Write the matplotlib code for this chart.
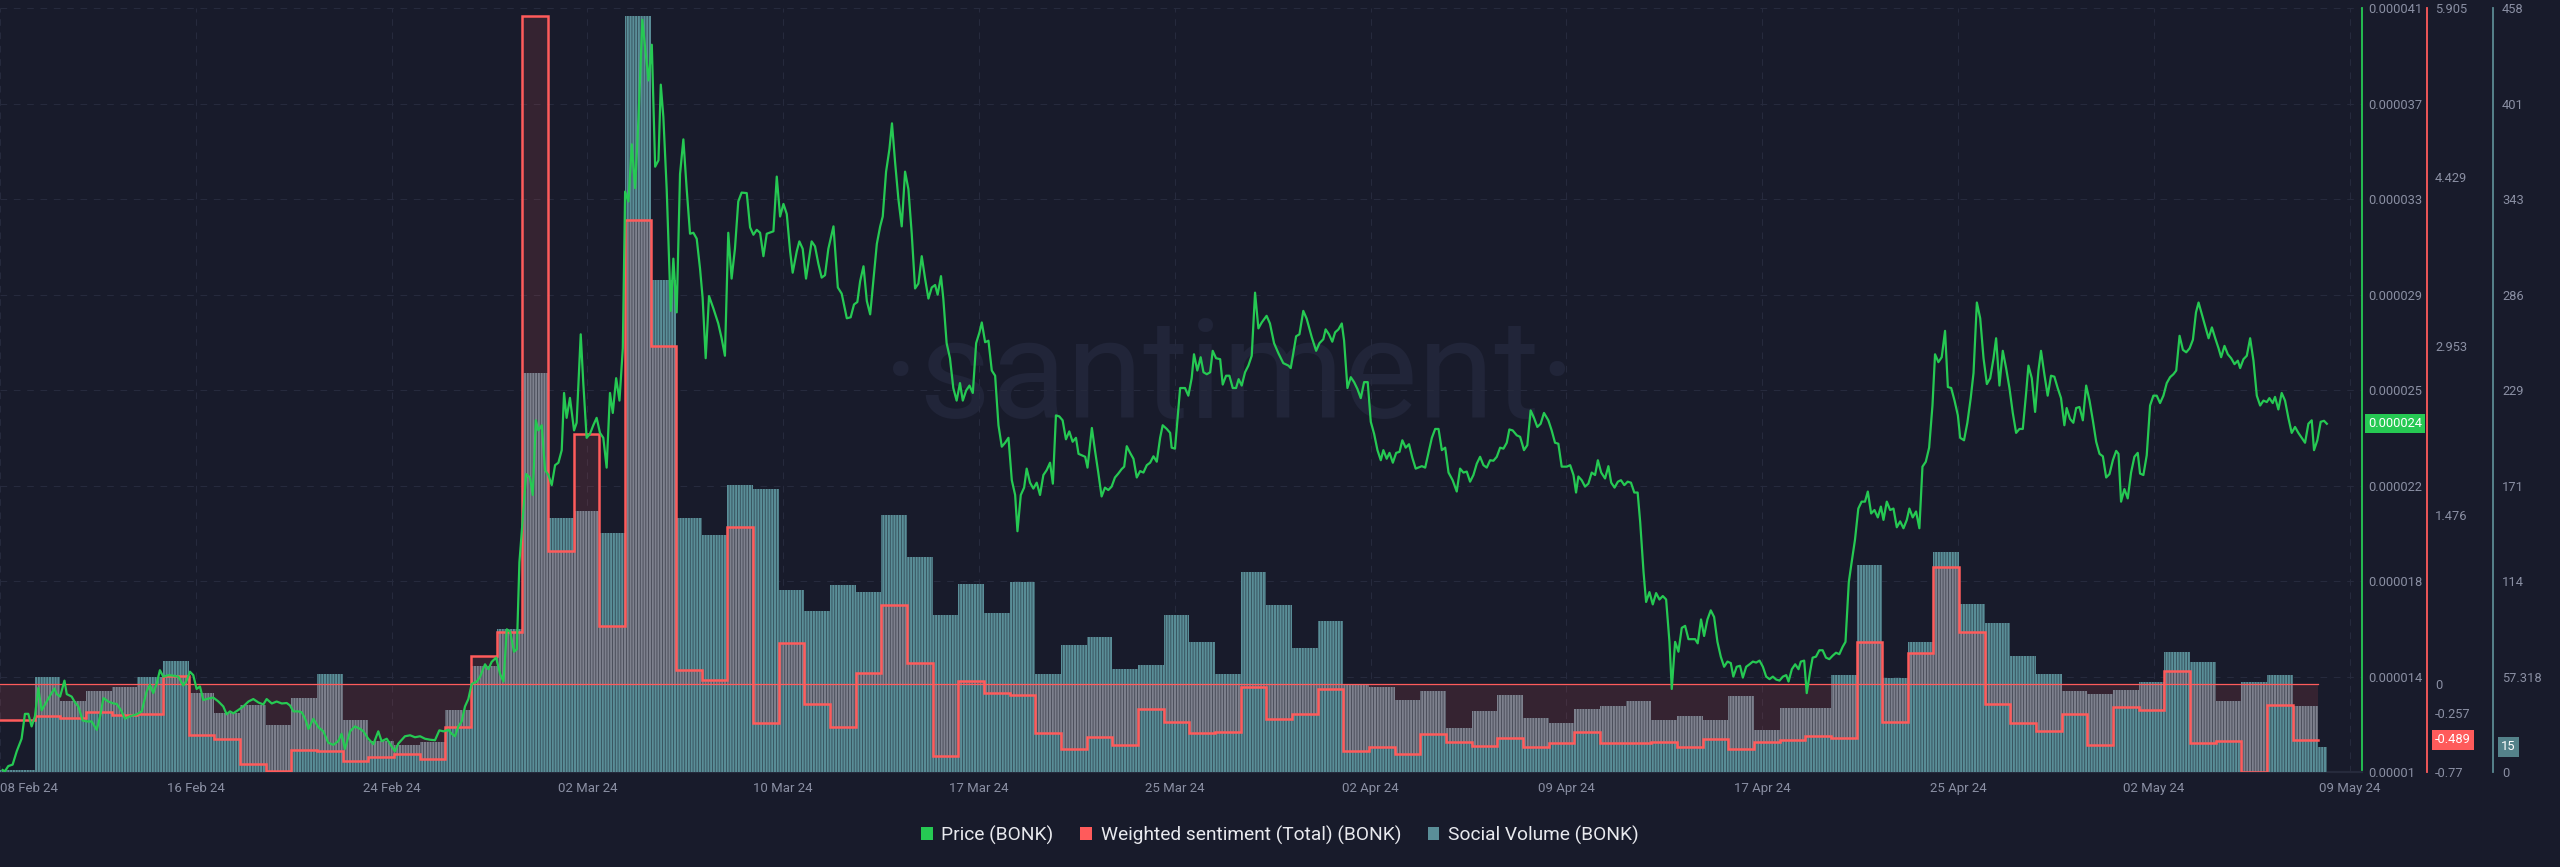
import numpy as np
import matplotlib
matplotlib.use("Agg")
import matplotlib.pyplot as plt
from matplotlib.patches import Patch
from matplotlib.path import Path
from matplotlib.transforms import blended_transform_factory as blend

# ---------------- data ----------------
DATE_LABELS = ['08 Feb 24', '16 Feb 24', '24 Feb 24', '02 Mar 24', '10 Mar 24', '17 Mar 24',
               '25 Mar 24', '02 Apr 24', '09 Apr 24', '17 Apr 24', '25 Apr 24', '02 May 24',
               '09 May 24']
PRICE_TICK_LABELS = ['0.00001', '0.000014', '0.000018', '0.000022', '0.000025', '0.000029',
                     '0.000033', '0.000037', '0.000041']
SENT_TICKS = [-0.77, -0.257, 0, 1.476, 2.953, 4.429, 5.905]
SENT_TICK_LABELS = ['-0.77', '-0.257', '0', '1.476', '2.953', '4.429', '5.905']
VOL_TICK_LABELS = ['0', '57.318', '114', '171', '229', '286', '343', '401', '458']

# daily weighted sentiment, first (partial) day then one value per day
SENTIMENT = [-0.314, -0.279, -0.300, -0.248, -0.274, -0.261, 0.065, -0.444, -0.483, -0.696,
             -0.761, -0.575, -0.587, -0.674, -0.639, -0.613, -0.657, -0.379, 0.247, 0.451,
             5.835, 1.160, 2.185, 0.508, 4.049, 2.954, 0.125, 0.030, 1.368, -0.340,
             0.356, -0.179, -0.379, 0.091, 0.686, 0.178, -0.626, 0.025, -0.079, -0.096,
             -0.431, -0.566, -0.461, -0.535, -0.218, -0.331, -0.431, -0.422, -0.023, -0.309,
             -0.261, -0.049, -0.587, -0.553, -0.613, -0.440, -0.505, -0.544, -0.474, -0.553,
             -0.514, -0.418, -0.514, -0.514, -0.505, -0.548, -0.479, -0.570, -0.505, -0.492,
             -0.452, -0.470, 0.369, -0.335, 0.273, 1.020, 0.451, -0.179, -0.340, -0.409,
             -0.266, -0.531, -0.205, -0.227, 0.112, -0.518, -0.500, -0.770, -0.188, -0.489]

# daily social volume, first (partial) day ... last (partial) day
SOCIAL_VOLUME = [1, 56.9, 42.3, 48.3, 50.9, 56.9, 66.7, 47.1, 35.1, 39.9,
                 28.2, 44.1, 59.0, 31.2, 18.4, 16.0, 17.8, 36.9, 63.7, 85.8,
                 239.1, 152.0, 156.2, 143.1, 453.0, 294.9, 152.0, 141.9, 172.0, 169.9,
                 109.1, 96.3, 112.1, 108.2, 153.8, 128.8, 94.2, 113.0, 95.1, 114.2,
                 59.0, 76.0, 80.8, 61.9, 64.0, 94.2, 78.1, 59.0, 119.8, 100.1,
                 74.2, 90.3, 52.1, 50.9, 43.2, 48.3, 26.1, 36.3, 46.2, 32.4,
                 29.1, 37.8, 39.3, 42.3, 31.2, 33.3, 31.2, 45.3, 25.2, 38.4,
                 38.4, 58.1, 124.0, 56.3, 78.1, 132.1, 101.0, 89.1, 69.7, 59.0,
                 48.3, 46.5, 49.2, 54.2, 72.1, 65.8, 42.3, 54.2, 58.1, 39.3, 15]
LAST_DAY_FRACTION = 0.33   # the last volume bar covers only part of a day

# price (days since first full day, price in millionths of a dollar)
PRICE_SERIES = [
    (-1.25, 10.08), (-1.16, 10.03), (-1.03, 10.24), (-0.86, 10.30), (-0.70, 10.84), (-0.51, 11.35),
    (-0.38, 12.36), (-0.25, 12.36), (-0.12, 11.85), (0.01, 12.26), (0.14, 13.41), (0.27, 12.50),
    (0.47, 12.86), (0.60, 13.10), (0.77, 13.39), (0.86, 13.16), (0.99, 13.06), (1.16, 13.71),
    (1.25, 13.16), (1.44, 13.06), (1.57, 12.82), (1.70, 12.66), (1.87, 12.09), (2.05, 12.05),
    (2.22, 12.05), (2.42, 11.71), (2.55, 12.26), (2.68, 13.00), (2.87, 12.86), (3.07, 12.78),
    (3.20, 12.76), (3.39, 12.46), (3.52, 12.16), (3.71, 12.26), (3.97, 12.34), (4.17, 12.46),
    (4.36, 13.26), (4.49, 13.53), (4.62, 13.20), (4.75, 13.57), (4.88, 14.13), (5.01, 13.87),
    (5.21, 13.93), (5.40, 13.91), (5.60, 13.87), (5.79, 13.51), (5.92, 13.71), (6.05, 14.07),
    (6.18, 13.93), (6.31, 13.37), (6.44, 13.47), (6.57, 12.92), (6.77, 12.98), (6.96, 13.02),
    (7.16, 12.86), (7.35, 12.66), (7.48, 12.34), (7.61, 12.46), (7.74, 12.38), (7.94, 12.52),
    (8.13, 12.66), (8.33, 12.86), (8.52, 12.96), (8.72, 12.82), (8.91, 12.74), (9.04, 12.96),
    (9.24, 12.78), (9.43, 12.86), (9.63, 12.78), (9.82, 12.80), (9.95, 12.70), (10.08, 12.46),
    (10.28, 12.46), (10.41, 12.42), (10.54, 12.16), (10.67, 11.75), (10.86, 12.16), (11.06, 11.81),
    (11.25, 11.65), (11.44, 11.19), (11.64, 11.10), (11.83, 11.25), (11.96, 11.55), (12.09, 10.94),
    (12.29, 11.65), (12.48, 11.85), (12.68, 11.75), (12.81, 11.65), (13.00, 11.35), (13.20, 11.13),
    (13.39, 11.65), (13.52, 11.25), (13.72, 11.35), (13.91, 11.04), (14.04, 10.84), (14.17, 11.15),
    (14.43, 11.45), (14.63, 11.49), (14.82, 11.41), (15.02, 11.45), (15.21, 11.35), (15.41, 11.31),
    (15.60, 11.29), (15.77, 11.69), (15.93, 11.65), (16.12, 11.71), (16.25, 11.55), (16.38, 11.45),
    (16.51, 11.85), (16.64, 12.05), (16.77, 12.66), (16.90, 12.96), (17.03, 13.57), (17.23, 13.67),
    (17.36, 13.87), (17.55, 14.37), (17.68, 14.17), (17.81, 14.47), (17.98, 14.64), (18.14, 13.97),
    (18.27, 13.67), (18.40, 15.79), (18.53, 15.69), (18.68, 14.88), (18.79, 14.98), (18.89, 18.51),
    (18.98, 19.72), (19.15, 22.09), (19.30, 21.95), (19.41, 21.24), (19.53, 24.27), (19.63, 23.86),
    (19.76, 24.07), (19.89, 22.25), (20.02, 22.05), (20.15, 21.64), (20.28, 22.45), (20.41, 22.55),
    (20.54, 23.06), (20.63, 25.38), (20.73, 24.37), (20.86, 25.18), (21.02, 23.86), (21.12, 24.17),
    (21.28, 27.76), (21.38, 25.78), (21.51, 23.56), (21.64, 23.72), (21.77, 24.07), (21.90, 24.37),
    (22.03, 23.76), (22.16, 23.56), (22.29, 22.35), (22.42, 25.38), (22.53, 24.57), (22.66, 25.98),
    (22.79, 25.07), (22.92, 27.19), (23.01, 33.55), (23.14, 33.15), (23.27, 35.47), (23.40, 33.69),
    (23.53, 36.48), (23.68, 40.52), (23.79, 39.41), (23.92, 38.06), (24.05, 39.51), (24.18, 34.56),
    (24.31, 34.82), (24.40, 37.89), (24.50, 36.58), (24.63, 33.65), (24.79, 28.71), (24.89, 30.83),
    (25.02, 28.65), (25.15, 34.26), (25.28, 35.67), (25.41, 33.65), (25.54, 31.84), (25.67, 31.88),
    (25.80, 31.64), (25.93, 30.42), (26.03, 29.25), (26.15, 26.79), (26.28, 29.31), (26.45, 28.81),
    (26.64, 28.20), (26.77, 27.60), (26.90, 26.89), (27.03, 31.88), (27.16, 30.02), (27.29, 31.23),
    (27.42, 33.15), (27.55, 33.51), (27.75, 33.49), (27.88, 32.10), (28.01, 31.80), (28.14, 32.00),
    (28.27, 31.88), (28.40, 30.93), (28.53, 31.84), (28.79, 31.94), (28.92, 34.16), (29.05, 32.54),
    (29.18, 33.05), (29.31, 32.64), (29.44, 31.13), (29.54, 30.26), (29.70, 31.13), (29.80, 31.53),
    (29.93, 31.23), (30.06, 30.02), (30.28, 31.53), (30.41, 31.33), (30.54, 30.63), (30.67, 30.06),
    (30.80, 30.16), (30.93, 31.23), (31.13, 32.14), (31.30, 29.66), (31.45, 29.41), (31.65, 28.41),
    (31.80, 28.45), (31.93, 28.97), (32.06, 29.07), (32.17, 29.92), (32.30, 30.52), (32.43, 29.11),
    (32.56, 28.57), (32.69, 30.02), (32.82, 31.43), (32.95, 32.14), (33.05, 32.54), (33.18, 34.36),
    (33.31, 35.27), (33.41, 36.32), (33.53, 34.76), (33.66, 33.25), (33.79, 32.14), (33.92, 34.36),
    (34.05, 33.65), (34.18, 31.84), (34.31, 29.62), (34.44, 29.82), (34.57, 30.93), (34.70, 30.02),
    (34.83, 29.21), (34.96, 29.66), (35.09, 29.76), (35.19, 29.37), (35.32, 30.12), (35.41, 29.21),
    (35.54, 27.40), (35.67, 26.79), (35.80, 25.58), (35.93, 25.07), (36.06, 25.78), (36.17, 25.07),
    (36.30, 25.48), (36.43, 25.68), (36.56, 25.38), (36.69, 27.40), (36.82, 27.84), (36.91, 28.24),
    (37.04, 27.44), (37.17, 27.50), (37.30, 26.29), (37.43, 26.08), (37.56, 24.07), (37.69, 23.20),
    (37.82, 23.36), (37.95, 23.56), (38.08, 21.84), (38.21, 21.24), (38.30, 19.77), (38.43, 21.24),
    (38.56, 21.54), (38.66, 22.31), (38.79, 21.74), (38.92, 21.50), (39.05, 21.74), (39.18, 21.24),
    (39.31, 22.05), (39.44, 22.25), (39.57, 22.55), (39.68, 21.70), (39.80, 24.47), (39.93, 24.43),
    (40.06, 24.27), (40.19, 23.50), (40.32, 23.82), (40.45, 23.40), (40.58, 23.56), (40.68, 22.91),
    (40.81, 22.85), (40.94, 22.79), (41.03, 22.35), (41.20, 23.96), (41.32, 23.06), (41.45, 22.15),
    (41.58, 21.18), (41.71, 21.54), (41.84, 21.44), (41.97, 21.58), (42.10, 21.95), (42.23, 22.11),
    (42.36, 22.29), (42.46, 22.39), (42.56, 23.22), (42.69, 22.95), (42.82, 22.71), (42.95, 21.95),
    (43.08, 22.21), (43.21, 22.15), (43.34, 22.45), (43.47, 22.55), (43.60, 22.81), (43.73, 22.59),
    (43.86, 23.56), (43.96, 24.07), (44.12, 23.92), (44.25, 23.76), (44.31, 23.16), (44.44, 23.12),
    (44.64, 25.58), (44.83, 25.58), (44.96, 25.27), (45.09, 25.98), (45.18, 26.95), (45.31, 26.29),
    (45.44, 26.83), (45.55, 26.22), (45.68, 26.14), (45.81, 26.22), (45.91, 27.09), (46.04, 26.79),
    (46.20, 26.75), (46.30, 25.72), (46.43, 26.08), (46.56, 26.08), (46.69, 25.58), (46.82, 25.58),
    (46.92, 25.94), (47.04, 25.68), (47.17, 26.22), (47.30, 26.49), (47.43, 26.89), (47.56, 29.45),
    (47.69, 28.00), (47.82, 28.24), (48.01, 28.51), (48.14, 28.20), (48.30, 27.40), (48.47, 26.99),
    (48.66, 26.59), (48.86, 26.49), (48.95, 26.39), (49.05, 26.99), (49.16, 27.68), (49.29, 27.76),
    (49.44, 28.71), (49.57, 28.40), (49.77, 27.64), (49.94, 27.09), (50.07, 27.40), (50.22, 27.56),
    (50.31, 27.96), (50.44, 27.76), (50.57, 27.46), (50.68, 27.84), (50.81, 27.96), (50.94, 28.20),
    (51.03, 27.50), (51.16, 25.58), (51.29, 26.02), (51.42, 25.82), (51.55, 25.54), (51.68, 25.17),
    (51.81, 25.82), (51.95, 25.82), (52.07, 24.21), (52.20, 23.72), (52.33, 23.06), (52.46, 22.65),
    (52.56, 23.06), (52.69, 22.71), (52.80, 22.95), (52.93, 22.55), (53.06, 22.95), (53.19, 22.99),
    (53.30, 23.46), (53.43, 23.16), (53.56, 23.30), (53.69, 22.75), (53.82, 22.31), (54.06, 22.41),
    (54.19, 22.35), (54.32, 22.95), (54.45, 23.56), (54.58, 23.92), (54.71, 23.92), (54.84, 23.06),
    (54.97, 23.16), (55.10, 22.15), (55.26, 21.84), (55.42, 21.38), (55.55, 22.31), (55.68, 22.15),
    (55.81, 22.19), (55.94, 21.78), (56.07, 22.05), (56.20, 22.51), (56.33, 22.79), (56.46, 22.45),
    (56.59, 22.35), (56.72, 22.65), (56.85, 22.63), (56.98, 22.79), (57.11, 23.16), (57.24, 23.12),
    (57.37, 23.36), (57.47, 23.90), (57.60, 23.86), (57.76, 23.66), (57.89, 23.60), (58.04, 23.06),
    (58.17, 23.26), (58.30, 24.67), (58.43, 24.37), (58.56, 24.00), (58.69, 24.13), (58.82, 24.57),
    (58.99, 24.27), (59.12, 23.86), (59.25, 23.36), (59.38, 23.32), (59.51, 22.39), (59.71, 22.39),
    (59.84, 22.45), (59.97, 22.05), (60.07, 21.34), (60.16, 21.99), (60.29, 21.84), (60.42, 21.58),
    (60.55, 21.70), (60.68, 22.15), (60.81, 22.05), (60.92, 22.65), (61.05, 22.15), (61.20, 21.91),
    (61.33, 22.41), (61.44, 21.74), (61.57, 21.54), (61.70, 21.78), (61.82, 21.84), (61.95, 21.64),
    (62.08, 21.78), (62.21, 21.74), (62.34, 21.34), (62.47, 21.34), (62.57, 20.13), (62.70, 18.11),
    (62.80, 16.90), (62.93, 17.30), (63.06, 16.80), (63.19, 17.26), (63.32, 17.00), (63.45, 17.14),
    (63.58, 17.00), (63.71, 15.28), (63.80, 13.37), (63.93, 15.28), (64.06, 14.88), (64.19, 15.85),
    (64.32, 15.93), (64.45, 15.39), (64.58, 15.39), (64.71, 15.39), (64.81, 15.22), (64.94, 16.19),
    (65.06, 15.52), (65.19, 16.19), (65.32, 16.56), (65.45, 16.29), (65.58, 15.28), (65.71, 14.68),
    (65.84, 14.27), (65.97, 14.48), (66.10, 14.42), (66.20, 13.87), (66.33, 14.27), (66.46, 14.31),
    (66.57, 13.83), (66.70, 14.27), (66.83, 14.37), (66.96, 14.48), (67.09, 14.44), (67.22, 14.52),
    (67.35, 14.27), (67.48, 13.87), (67.61, 13.77), (67.74, 13.87), (67.87, 13.75), (68.00, 13.71),
    (68.13, 13.87), (68.26, 13.93), (68.35, 13.67), (68.48, 14.17), (68.61, 14.37), (68.74, 14.17),
    (68.83, 14.48), (68.96, 14.52), (69.06, 13.20), (69.19, 14.07), (69.29, 14.64), (69.42, 14.68),
    (69.55, 14.94), (69.68, 14.94), (69.81, 14.64), (69.94, 14.58), (70.07, 14.72), (70.20, 14.84),
    (70.33, 14.78), (70.46, 15.08), (70.57, 15.28), (70.70, 17.71), (70.81, 18.51), (70.94, 19.42),
    (71.07, 20.69), (71.20, 20.97), (71.33, 20.97), (71.44, 21.38), (71.57, 20.49), (71.70, 20.63),
    (71.83, 20.33), (71.95, 20.77), (72.05, 20.23), (72.18, 20.97), (72.31, 20.63), (72.44, 20.69),
    (72.57, 19.93), (72.70, 20.17), (72.83, 19.89), (72.96, 20.23), (73.06, 20.69), (73.19, 20.33),
    (73.32, 20.57), (73.45, 19.89), (73.57, 22.39), (73.70, 22.59), (73.83, 23.16), (73.96, 24.87),
    (74.06, 26.95), (74.19, 26.63), (74.32, 26.83), (74.45, 27.90), (74.56, 25.62), (74.69, 25.58),
    (74.82, 25.07), (74.95, 24.47), (75.04, 23.56), (75.19, 23.46), (75.32, 24.17), (75.45, 25.17),
    (75.56, 26.19), (75.69, 29.05), (75.82, 28.41), (75.95, 26.79), (76.08, 25.74), (76.21, 25.98),
    (76.34, 26.79), (76.44, 27.60), (76.57, 25.68), (76.70, 27.09), (76.83, 26.39), (76.96, 25.58),
    (77.09, 24.57), (77.22, 23.76), (77.35, 23.92), (77.48, 23.92), (77.61, 25.38), (77.70, 26.49),
    (77.83, 25.98), (77.96, 24.61), (78.09, 26.29), (78.19, 27.09), (78.32, 26.14), (78.45, 25.27),
    (78.58, 26.08), (78.71, 26.04), (78.84, 25.58), (78.97, 25.17), (79.10, 24.07), (79.19, 24.77),
    (79.32, 24.33), (79.45, 24.17), (79.56, 24.77), (79.69, 24.81), (79.82, 24.27), (79.95, 25.68),
    (80.08, 25.07), (80.21, 24.27), (80.34, 23.40), (80.47, 22.91), (80.60, 22.81), (80.73, 21.95),
    (80.86, 22.09), (80.99, 22.65), (81.12, 23.03), (81.21, 22.91), (81.31, 20.97), (81.44, 21.48),
    (81.57, 21.10), (81.70, 22.15), (81.83, 22.79), (81.96, 22.95), (82.05, 22.11), (82.18, 22.05),
    (82.31, 22.85), (82.44, 24.87), (82.57, 25.27), (82.70, 25.27), (82.83, 24.97), (82.96, 25.27),
    (83.09, 25.78), (83.22, 26.02), (83.35, 26.14), (83.46, 26.29), (83.59, 27.70), (83.72, 27.13),
    (83.85, 27.03), (83.98, 27.19), (84.11, 27.54), (84.23, 28.65), (84.33, 29.05), (84.46, 28.57),
    (84.59, 28.10), (84.72, 27.60), (84.85, 28.04), (84.98, 27.60), (85.11, 27.19), (85.21, 26.83),
    (85.34, 27.29), (85.47, 26.95), (85.60, 26.79), (85.73, 26.55), (85.86, 26.69), (85.95, 26.39),
    (86.08, 26.75), (86.21, 26.89), (86.34, 27.60), (86.47, 26.69), (86.60, 25.27), (86.73, 24.87),
    (86.86, 25.07), (86.99, 25.01), (87.09, 25.17), (87.22, 24.97), (87.31, 25.22), (87.44, 24.71),
    (87.57, 25.38), (87.70, 25.07), (87.83, 24.37), (87.96, 23.76), (88.09, 24.00), (88.22, 23.76),
    (88.35, 23.56), (88.48, 23.36), (88.61, 24.13), (88.74, 24.27), (88.83, 23.06), (88.96, 23.46),
    (89.09, 24.21), (89.22, 24.25), (89.33, 24.13),
]
PRICE_UNIT = 1e-6

# ---------------- style ----------------
BG = '#181b2b'
GRID = '#262a3d'
TICK = '#8a8fa3'
GREEN = '#26c953'
RED = '#ff5b5b'
TEAL = '#5a8e98'
GRAY = '#7e818e'
WATER = '#212539'

plt.rcParams['font.family'] = ['Roboto', 'DejaVu Sans']
plt.rcParams['hatch.linewidth'] = 0.6
plt.rcParams['hatch.color'] = (0.07, 0.08, 0.13, 0.55)

XMIN, XMAX = -1.352, 90.70
XTICK_STEP = 7.631
P_MIN, P_MAX = 10e-6, 41e-6
S_MIN, S_MAX = -0.77, 5.905
V_MIN, V_MAX = 0, 458

fig = plt.figure(figsize=(25.6, 8.67), dpi=100, facecolor=BG)
rect = [0.0, 0.10957, 0.92266, 0.88120]
ax_p = fig.add_axes(rect)
ax_p.set_facecolor(BG)
ax_s = ax_p.twinx()
ax_v = ax_p.twinx()
ax_top = ax_p.twinx()
for z, a in enumerate([ax_p, ax_s, ax_v, ax_top]):
    a.set_zorder(z)
    if z:
        a.patch.set_visible(False)

# ---------------- sentiment fill (below bars) ----------------
sent = np.array(SENTIMENT)
s_x = np.r_[XMIN, np.arange(0, len(sent))]
s_y = np.r_[sent, sent[-1]]
fill = ax_s.fill_between(s_x, s_y, 0, step='post', color=RED, alpha=0.13, linewidth=0)

# ---------------- social volume bars ----------------
vol = np.array(SOCIAL_VOLUME, dtype=float)
v_left = np.r_[XMIN, np.arange(0, len(vol) - 1)]
v_width = np.r_[0 - XMIN, np.ones(len(vol) - 2), LAST_DAY_FRACTION]
ax_v.bar(v_left, vol, width=v_width, align='edge', color=TEAL, linewidth=0, hatch='||||||')
gray_bars = ax_v.bar(v_left, vol, width=v_width, align='edge', color=GRAY, linewidth=0,
                     hatch='||||||')
clip = Path.make_compound_path(*fill.get_paths())
for b in gray_bars:
    b.set_clip_path(clip, ax_s.transData)

# ---------------- lines on top ----------------
ax_top.plot([s_x[0], s_x[-1]], [0, 0], transform=ax_s.transData, color=RED, lw=0.9, zorder=1)
ax_top.plot(s_x, s_y, drawstyle='steps-post', transform=ax_s.transData, color=RED, lw=1.8,
            zorder=2, solid_joinstyle='miter')
pd_, pv_ = zip(*PRICE_SERIES)
price = np.array(pv_) * PRICE_UNIT
ax_top.plot(pd_, price, color=GREEN, lw=1.6, zorder=3)

# ---------------- axes & ticks ----------------
for a in (ax_p, ax_s, ax_v, ax_top):
    a.set_xlim(XMIN, XMAX)
ax_p.set_ylim(P_MIN, P_MAX)
ax_top.set_ylim(P_MIN, P_MAX)
ax_s.set_ylim(S_MIN, S_MAX)
ax_v.set_ylim(V_MIN, V_MAX)

ax_p.yaxis.tick_right()
ax_p.set_yticks(np.linspace(P_MIN, P_MAX, len(PRICE_TICK_LABELS)))
ax_p.set_yticklabels(PRICE_TICK_LABELS)
ax_p.set_xticks(XMIN + XTICK_STEP * np.arange(len(DATE_LABELS)))
ax_p.set_xticklabels(DATE_LABELS)
ax_p.get_xticklabels()[0].set_ha('left')
ax_p.tick_params(axis='y', length=0, pad=4.3, labelsize=9.3, labelcolor=TICK)
ax_p.tick_params(axis='x', length=0, pad=7, labelsize=9.5, labelcolor=TICK)
ax_p.grid(True, color=GRID, linestyle=(0, (6, 6)), linewidth=0.8)

ax_s.set_yticks(SENT_TICKS)
ax_s.set_yticklabels(SENT_TICK_LABELS)
ax_s.tick_params(axis='y', length=0, pad=5.8, labelsize=9.3, labelcolor=TICK)
ax_s.spines['right'].set_position(('axes', 1.0275))

ax_v.set_yticks(np.linspace(V_MIN, V_MAX, len(VOL_TICK_LABELS)))
ax_v.set_yticklabels(VOL_TICK_LABELS)
ax_v.tick_params(axis='y', length=0, pad=6.5, labelsize=9.3, labelcolor=TICK)
ax_v.spines['right'].set_position(('axes', 1.0555))

ax_top.set_yticks([])
for a in (ax_p, ax_s, ax_v, ax_top):
    for side in ('left', 'top', 'bottom', 'right'):
        a.spines[side].set_visible(False)
ax_p.spines['right'].set_visible(True)
ax_p.spines['right'].set_color(GREEN)
ax_p.spines['right'].set_linewidth(1.3)
ax_p.spines['bottom'].set_visible(True)
ax_p.spines['bottom'].set_color('#262a3c')
ax_p.spines['bottom'].set_linewidth(1.6)
ax_s.spines['right'].set_visible(True)
ax_s.spines['right'].set_color(RED)
ax_s.spines['right'].set_linewidth(1.3)
ax_v.spines['right'].set_visible(True)
ax_v.spines['right'].set_color('#5b8a93')
ax_v.spines['right'].set_linewidth(1.3)

# ---------------- current value labels ----------------
ax_p.text(1.0025, price[-1], f'{price[-1]:.6f}', transform=blend(ax_p.transAxes, ax_p.transData),
          ha='left', va='center', color='white', fontsize=9.3, clip_on=False, zorder=10,
          bbox=dict(boxstyle='square,pad=0.25', fc=GREEN, ec='none'))
ax_s.text(1.0309, sent[-1], f'{sent[-1]:.3f}', transform=blend(ax_s.transAxes, ax_s.transData),
          ha='left', va='center', color='white', fontsize=9.3, clip_on=False, zorder=10,
          bbox=dict(boxstyle='square,pad=0.25', fc=RED, ec='none'))
ax_v.text(1.0588, vol[-1], f'{vol[-1]:.0f}', transform=blend(ax_v.transAxes, ax_v.transData),
          ha='left', va='center', color='white', fontsize=9.3, clip_on=False, zorder=10,
          bbox=dict(boxstyle='square,pad=0.25', fc='#54828a', ec='none'))

# ---------------- watermark ----------------
ax_p.text(0.5207, 0.4634, '·santiment·', transform=ax_p.transAxes, ha='center', va='baseline',
          fontsize=100, color=WATER, zorder=0.5)

# ---------------- legend ----------------
handles = [Patch(fc=GREEN, ec='none'), Patch(fc=RED, ec='none'), Patch(fc=TEAL, ec='none')]
labels = ['Price (BONK)', 'Weighted sentiment (Total) (BONK)', 'Social Volume (BONK)']
fig.legend(handles, labels, loc='center', bbox_to_anchor=(0.5, 0.0369), ncol=3, frameon=False,
           fontsize=13.8, handlelength=0.6, handleheight=0.6, handletextpad=0.45,
           columnspacing=1.4, labelcolor='#e8e9ee')

fig.savefig('out.png', dpi=100, facecolor=BG)
